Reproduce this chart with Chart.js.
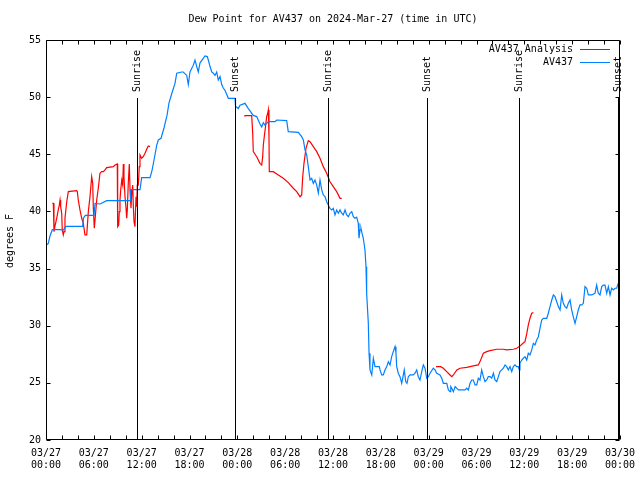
<!DOCTYPE html>
<html>
<head>
<meta charset="utf-8">
<script src="https://cdn.jsdelivr.net/npm/chart.js@4/dist/chart.umd.min.js"></script>
<style>
html,body{margin:0;padding:0;background:#fff;}
canvas{display:block;}
</style>
</head>
<body>
<canvas id="c" width="640" height="480"></canvas>
<script>
// ---- Data (hours since 2024-03-27 00:00 UTC) ----
const titleText = "Dew Point for AV437 on 2024-Mar-27 (time in UTC)";
const yAxisLabel = "degrees F";
const tickDates = ["03/27","03/27","03/27","03/27","03/28","03/28","03/28","03/28","03/29","03/29","03/29","03/29","03/30"];
const tickTimes = ["00:00","06:00","12:00","18:00","00:00","06:00","12:00","18:00","00:00","06:00","12:00","18:00","00:00"];

const obsLabel = "AV437";
const obsHours = [0.06,0.29,0.5,0.79,1.76,2.17,2.51,4.6,4.7,4.93,6.02,6.15,6.77,7.61,10.54,10.6,11.79,12.0,13.05,13.3,13.55,13.89,14.09,14.43,14.8,15.18,15.43,15.77,16.18,16.4,17.02,17.22,17.65,17.85,18.06,18.48,18.69,18.9,19.1,19.32,19.73,19.94,20.23,20.36,20.57,20.79,20.99,21.2,21.41,21.61,21.83,22.04,22.24,22.45,22.87,23.71,23.77,24.12,24.34,24.96,25.38,26.0,26.43,26.84,27.06,27.26,27.47,27.68,27.89,28.73,28.94,30.19,30.39,31.65,32.07,32.28,32.49,32.7,32.9,33.12,33.33,33.53,33.74,33.96,34.16,34.37,34.58,34.78,35.0,35.21,35.41,35.62,35.84,36.04,36.25,36.46,36.67,36.88,37.09,37.29,37.51,37.72,37.92,38.13,38.35,38.55,38.76,38.97,39.17,39.26,39.39,39.51,39.64,39.8,40.01,40.14,40.22,40.43,40.52,40.64,40.86,41.06,41.27,41.81,41.9,42.11,42.31,42.52,42.74,42.94,43.15,43.36,43.56,43.78,43.9,43.99,44.19,44.4,44.62,44.78,44.94,45.12,45.28,45.45,45.66,46.07,46.29,46.5,46.7,46.91,47.13,47.33,47.54,47.76,47.96,48.17,48.58,48.8,49.01,49.42,49.64,49.84,50.27,50.47,50.68,50.77,50.9,51.1,51.32,51.73,52.16,52.57,52.78,52.98,53.19,53.4,53.6,53.82,54.03,54.23,54.44,54.65,54.86,55.07,55.28,55.48,55.7,55.91,56.12,56.32,56.54,56.74,56.95,57.16,57.37,57.58,57.79,57.99,58.2,58.42,58.62,58.83,59.04,59.24,59.37,59.45,59.67,59.87,60.08,60.3,60.5,60.71,60.93,61.13,61.34,61.55,61.76,61.97,62.18,62.39,62.81,63.01,63.22,63.44,63.64,63.85,64.06,64.27,64.48,64.69,64.89,65.1,65.31,65.52,65.73,65.94,66.14,66.36,66.57,66.77,66.98,67.2,67.4,67.61,67.82,68.03,68.45,68.86,69.07,69.28,69.49,69.71,69.91,70.12,70.33,70.54,70.75,70.96,71.17,71.37,71.58,71.79,71.92];
const obsValues = [37.06,37.2,37.85,38.4,38.4,38.37,38.7,38.7,39.4,39.66,39.66,40.7,40.65,40.94,40.94,41.9,41.9,42.95,42.95,43.6,44.5,45.8,46.25,46.4,47.3,48.4,49.5,50.3,51.2,52.1,52.2,52.2,51.9,51.1,52.2,52.8,53.25,52.7,52.2,53.0,53.4,53.6,53.55,53.25,52.7,52.2,52.1,51.9,52.2,51.5,51.8,51.1,50.8,50.6,49.9,49.9,49.2,49.0,49.3,49.46,49.0,48.4,48.3,47.65,47.4,47.76,47.56,47.7,47.85,47.85,48.0,47.94,46.98,46.92,46.54,46.25,45.38,44.94,43.92,42.75,42.9,42.46,42.75,42.3,41.6,42.75,41.9,41.44,41.3,40.85,40.56,40.27,40.13,40.27,39.69,40.13,39.84,40.13,39.84,39.69,40.13,39.69,39.54,39.84,39.98,39.54,39.4,39.5,38.96,37.65,38.38,38.53,38.1,37.65,36.63,35.17,32.84,30.21,27.59,26.13,25.69,27.15,26.42,26.42,26.13,25.69,25.69,26.13,26.42,26.85,26.56,27.29,27.73,28.17,27.6,26.42,25.84,25.54,24.96,25.54,26.13,25.11,24.96,25.54,25.69,25.69,25.84,26.13,25.54,25.25,25.98,26.57,26.28,25.4,25.54,25.84,26.28,26.13,25.84,25.69,25.4,24.96,24.96,24.38,24.23,24.67,24.53,24.23,24.67,24.38,24.38,24.38,24.53,24.38,24.96,25.25,25.25,24.82,24.82,25.4,25.25,26.13,25.54,25.11,25.25,25.54,25.54,25.4,25.84,25.25,25.11,25.54,25.98,26.13,26.28,26.57,26.42,26.13,26.42,25.98,26.42,26.57,26.42,26.42,26.13,26.71,27.0,27.15,27.29,27.0,27.59,27.44,27.88,28.46,28.32,28.75,29.04,29.78,30.5,30.65,30.65,31.09,31.67,32.25,32.69,32.54,32.1,31.67,31.38,32.69,31.96,31.67,31.53,31.96,32.25,31.38,30.79,30.21,30.79,31.38,31.82,31.82,31.96,33.42,33.28,32.69,32.69,32.84,33.56,32.84,32.69,33.42,33.56,33.56,32.84,33.42,32.69,33.28,33.13,33.28,33.28,33.71,33.85];

const anaLabel = "AV437 Analysis";
// null marks a gap in the analysis series
const anaHours = [0.79,0.92,1.0,1.13,1.34,1.54,1.67,1.76,1.84,1.97,2.04,2.17,2.26,2.38,2.6,2.8,3.85,3.93,4.05,4.26,4.48,4.68,4.89,5.11,5.18,5.31,5.52,5.73,5.86,5.93,6.06,6.15,6.36,6.56,6.77,6.99,7.19,7.4,7.61,8.44,8.66,8.94,8.99,9.12,9.19,9.28,9.37,9.5,9.62,9.7,9.78,9.91,10.04,10.12,10.2,10.32,10.45,10.54,10.66,10.75,10.88,10.95,11.04,11.16,11.29,11.38,11.45,11.58,11.7,11.79,12.0,12.2,12.42,12.63,12.83,13.05,
  18.0,
  24.87,24.96,25.8,25.93,26.0,26.43,26.84,27.06,27.18,27.26,27.38,27.56,27.68,27.81,27.89,27.97,28.01,28.51,29.14,29.77,30.39,31.02,31.45,31.86,32.07,32.2,32.36,32.61,32.9,33.12,33.53,33.96,34.37,34.78,35.21,35.62,36.04,36.46,36.88,37.09,
  43.0,
  48.92,49.51,49.84,50.26,50.68,50.9,51.1,51.53,51.94,52.78,53.6,54.23,54.44,54.86,55.28,55.7,56.54,57.37,57.79,58.62,59.04,59.37,59.87,60.08,60.3,60.5,60.71,60.93,61.13];
const anaValues = [40.71,40.71,38.23,38.73,39.4,40.13,40.56,41.0,40.42,39.84,38.38,37.94,38.23,39.4,40.85,41.73,41.82,41.73,41.0,40.13,39.4,38.96,37.94,37.94,38.67,39.98,41.29,43.04,42.46,40.42,38.53,39.25,41.0,42.03,43.34,43.48,43.48,43.63,43.83,43.92,44.06,44.15,38.67,38.81,39.98,41.0,41.88,42.75,42.31,44.15,43.04,41.29,40.28,39.4,40.13,42.46,44.15,41.88,40.28,41.44,42.31,40.56,39.1,38.67,41.29,40.42,42.31,42.31,43.92,44.94,44.65,44.79,45.09,45.44,45.73,45.67,
  null,
  48.35,48.38,48.38,46.84,45.23,44.79,44.21,44.06,44.79,45.81,46.54,47.56,48.29,48.59,48.88,46.54,43.48,43.48,43.19,42.9,42.52,42.03,41.73,41.29,41.44,43.04,44.21,45.52,46.19,46.1,45.67,45.23,44.65,43.92,43.34,42.6,42.17,41.73,41.15,41.15,
  null,
  26.42,26.42,26.28,25.98,25.69,25.54,25.69,26.13,26.28,26.36,26.48,26.57,26.86,27.59,27.73,27.82,27.94,27.94,27.88,27.94,28.03,28.17,28.49,28.6,29.28,30.07,30.65,31.09,31.14];

const sunHours = [11.41,23.74,35.41,47.83,59.37,71.79];
const sunLabels = ["Sunrise","Sunset","Sunrise","Sunset","Sunrise","Sunset"];

const obsColor = "rgb(0,128,255)";
const anaColor = "rgb(255,0,0)";
const FONT = '"DejaVu Sans Mono", "Liberation Mono", monospace';

function toPoints(hs, vs){ return hs.map((h,i)=>({x:h, y:vs[i]})); }

const decorPlugin = {
  id: 'decor',
  afterDatasetsDraw(chart){
    const ctx = chart.ctx;
    const xs = chart.scales.x, ys = chart.scales.y;
    const a = chart.chartArea;
    const L = Math.round(a.left)+0.5, R = Math.round(a.right)-0.5;
    const T = Math.round(a.top)+0.5, B = Math.round(a.bottom)-0.5;
    ctx.save();
    ctx.strokeStyle = '#000';
    ctx.lineWidth = 1;
    // frame
    ctx.beginPath();
    ctx.rect(L, T, R-L, B-T);
    ctx.stroke();
    // x ticks every 2h, inward, top and bottom
    ctx.beginPath();
    for (let h = 0; h <= 72; h += 2){
      const px = Math.round(xs.getPixelForValue(h))+0.5;
      ctx.moveTo(px, B); ctx.lineTo(px, B-4);
      ctx.moveTo(px, T); ctx.lineTo(px, T+4);
    }
    // y ticks every 5, inward, left and right
    for (let v = 20; v <= 55; v += 5){
      const py = Math.round(ys.getPixelForValue(v))+0.5;
      ctx.moveTo(L, py); ctx.lineTo(L+4, py);
      ctx.moveTo(R, py); ctx.lineTo(R-4, py);
    }
    ctx.stroke();
    // sunrise / sunset markers
    ctx.font = '10px ' + FONT;
    ctx.fillStyle = '#000';
    sunHours.forEach((h, i) => {
      const px = Math.round(xs.getPixelForValue(h))+0.5;
      ctx.beginPath();
      ctx.moveTo(px, 98); ctx.lineTo(px, B);
      ctx.stroke();
      ctx.save();
      ctx.translate(px, 92);
      ctx.rotate(-Math.PI/2);
      ctx.textAlign = 'left';
      ctx.textBaseline = 'middle';
      ctx.fillText(sunLabels[i], 0, 0);
      ctx.restore();
    });
    // legend (top right, text right-aligned, sample line to the right)
    const dsList = [chart.data.datasets[0], chart.data.datasets[1]];
    const legY = [49, 62];
    ctx.textAlign = 'right';
    ctx.textBaseline = 'middle';
    dsList.forEach((ds, i) => {
      ctx.fillStyle = '#000';
      ctx.fillText(ds.label, 573, legY[i]);
      ctx.strokeStyle = ds.borderColor;
      ctx.lineWidth = 1;
      ctx.beginPath();
      ctx.moveTo(580, legY[i]+0.5); ctx.lineTo(610, legY[i]+0.5);
      ctx.stroke();
    });
    // title
    ctx.fillStyle = '#000';
    ctx.textAlign = 'center';
    ctx.textBaseline = 'middle';
    ctx.fillText(titleText, (a.left + a.right)/2, 19);
    // y axis label
    ctx.save();
    ctx.translate(10, 241);
    ctx.rotate(-Math.PI/2);
    ctx.textAlign = 'center';
    ctx.textBaseline = 'middle';
    ctx.fillText(yAxisLabel, 0, 0);
    ctx.restore();
    ctx.restore();
  }
};

new Chart(document.getElementById('c'), {
  type: 'line',
  data: {
    datasets: [
      { label: anaLabel, data: toPoints(anaHours, anaValues), borderColor: anaColor, backgroundColor: anaColor,
        borderWidth: 1.2, pointRadius: 0, tension: 0, spanGaps: false, order: 1 },
      { label: obsLabel, data: toPoints(obsHours, obsValues), borderColor: obsColor, backgroundColor: obsColor,
        borderWidth: 1.2, pointRadius: 0, tension: 0, spanGaps: false, order: 0 }
    ]
  },
  options: {
    responsive: false,
    animation: false,
    devicePixelRatio: 1,
    layout: { padding: { left: 0, right: 20, top: 40, bottom: 0 } },
    plugins: { legend: { display: false }, title: { display: false }, tooltip: { enabled: false } },
    scales: {
      x: {
        type: 'linear', min: 0, max: 72,
        grid: { display: false, drawTicks: false },
        border: { display: false },
        afterFit(s){ s.height = 40; s.paddingLeft = 0; s.paddingRight = 0; s.paddingTop = 0; s.paddingBottom = 0; },
        afterBuildTicks(s){ s.ticks = tickTimes.map((t,i)=>({value: i*6})); },
        ticks: {
          autoSkip: false, maxRotation: 0, minRotation: 0, padding: 8,
          color: '#000', font: { family: FONT, size: 10, lineHeight: 1.15 },
          callback(v){ const i = Math.round(v/6); return [tickDates[i], tickTimes[i]]; }
        }
      },
      y: {
        type: 'linear', min: 20, max: 55,
        grid: { display: false, drawTicks: false },
        border: { display: false },
        afterFit(s){ s.width = 46; s.paddingTop = 0; s.paddingBottom = 0; s.paddingLeft = 0; s.paddingRight = 0; },
        ticks: { stepSize: 5, padding: 5, color: '#000', font: { family: FONT, size: 10 } }
      }
    }
  },
  plugins: [decorPlugin]
});
</script>
</body>
</html>
